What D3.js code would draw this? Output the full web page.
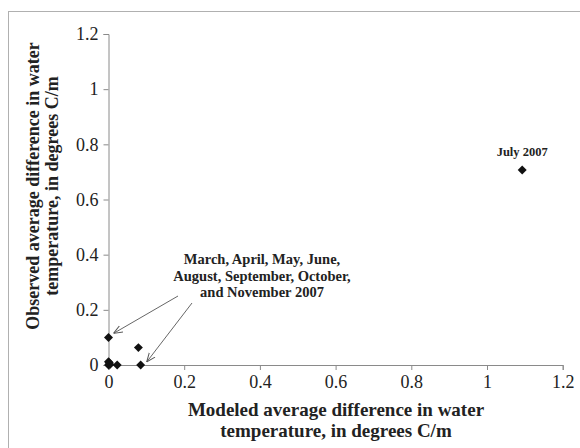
<!DOCTYPE html>
<html>
<head>
<meta charset="utf-8">
<script src="https://cdn.jsdelivr.net/npm/d3@7"></script>
<style>
  body { margin: 0; background: #fff; }
  svg, svg text { font-family: "Liberation Serif", "Times New Roman", serif; }
</style>
</head>
<body>
<script>
// modeled vs observed average difference in water temperature
var modeled  = [0, 0.002, 0.004, 0, 0.023, 0.079, 0.085, 0, 1.093];
var observed = [0, 0.008, 0.002, 0.012, 0, 0.063, 0, 0.1, 0.707];
var xTicks = [0, 0.2, 0.4, 0.6, 0.8, 1, 1.2];
var yTicks = [0, 0.2, 0.4, 0.6, 0.8, 1, 1.2];

var width = 580, height = 448;

var svg = d3.select("body").append("svg")
    .attr("width", width)
    .attr("height", height);

// outer frame
svg.append("rect")
    .attr("x", 8.5).attr("y", 11.5)
    .attr("width", 600).attr("height", 500)
    .attr("fill", "none")
    .attr("stroke", "#b0b0b0");

var x = d3.scaleLinear().domain([0, 1.2]).range([108.5, 562.7]);
var y = d3.scaleLinear().domain([0, 1.2]).range([365, 34]);

var fmt = function(d) { return d === 0 ? "0" : d3.format("")(d); };

var xAxis = svg.append("g")
    .attr("transform", "translate(0," + y(0) + ")")
    .call(d3.axisBottom(x).tickValues(xTicks).tickFormat(fmt).tickSize(5).tickPadding(5));

var yAxis = svg.append("g")
    .attr("transform", "translate(" + x(0) + ",0)")
    .call(d3.axisLeft(y).tickValues(yTicks).tickFormat(fmt).tickSize(5).tickPadding(5));

[xAxis, yAxis].forEach(function(g) {
  g.attr("font-family", null).attr("font-size", null);
  g.select(".domain").attr("stroke", "#8a8a8a");
  g.selectAll(".tick line").attr("stroke", "#8a8a8a");
  g.selectAll(".tick text")
      .attr("fill", "#222")
      .style("font-size", "18px")
      .style("font-family", "'Liberation Serif', serif");
});

// axis titles
var xTitle = svg.append("text")
    .attr("text-anchor", "middle")
    .attr("font-size", "19px")
    .attr("font-weight", "bold")
    .attr("fill", "#222");
xTitle.append("tspan").attr("x", 336).attr("y", 416).text("Modeled average difference in water");
xTitle.append("tspan").attr("x", 336).attr("y", 437).text("temperature, in degrees C/m");

var yTitle = svg.append("text")
    .attr("transform", "translate(0,186) rotate(-90)")
    .attr("text-anchor", "middle")
    .attr("font-size", "18px")
    .attr("font-weight", "bold")
    .attr("fill", "#222");
yTitle.append("tspan").attr("x", 0).attr("y", 39).text("Observed average difference in water");
yTitle.append("tspan").attr("x", 0).attr("y", 58).text("temperature, in degrees C/m");

// arrow marker
svg.append("defs").append("marker")
    .attr("id", "arr")
    .attr("viewBox", "0 0 10 10")
    .attr("refX", 10).attr("refY", 5)
    .attr("markerWidth", 9).attr("markerHeight", 9)
    .attr("markerUnits", "userSpaceOnUse")
    .attr("orient", "auto")
  .append("path")
    .attr("d", "M0,1 L10,5 L0,9")
    .attr("fill", "none")
    .attr("stroke", "#555")
    .attr("stroke-width", 1.1);

// annotation arrows (pointing to the 0.1 point and the 0.085 point)
var arrows = [
  {from: [178, 296], to: [x(0) + 5, y(0.1) - 4]},
  {from: [192, 303], to: [x(0.085) + 6, y(0) - 3]}
];
svg.selectAll(".arrow")
    .data(arrows)
  .enter().append("line")
    .attr("class", "arrow")
    .attr("x1", function(d) { return d.from[0]; })
    .attr("y1", function(d) { return d.from[1]; })
    .attr("x2", function(d) { return d.to[0]; })
    .attr("y2", function(d) { return d.to[1]; })
    .attr("stroke", "#555")
    .attr("stroke-width", 0.9)
    .attr("marker-end", "url(#arr)");

// points
var pts = modeled.map(function(m, i) { return {m: m, o: observed[i]}; });
svg.selectAll(".pt")
    .data(pts)
  .enter().append("path")
    .attr("class", "pt")
    .attr("d", d3.symbol().type(d3.symbolSquare).size(40))
    .attr("transform", function(d) { return "translate(" + x(d.m) + "," + y(d.o) + ") rotate(45)"; })
    .attr("fill", "#111");

// labels
var note = svg.append("text")
    .attr("text-anchor", "middle")
    .attr("font-size", "14.5px")
    .attr("font-weight", "bold")
    .attr("fill", "#222");
["March, April, May, June,", "August, September, October,", "and November 2007"].forEach(function(t, i) {
  note.append("tspan").attr("x", 262).attr("y", 264 + i * 16.5).text(t);
});

svg.append("text")
    .attr("x", x(1.093))
    .attr("y", y(0.707) - 14)
    .attr("text-anchor", "middle")
    .attr("font-size", "12.5px")
    .attr("font-weight", "bold")
    .attr("fill", "#222")
    .text("July 2007");
</script>
</body>
</html>
